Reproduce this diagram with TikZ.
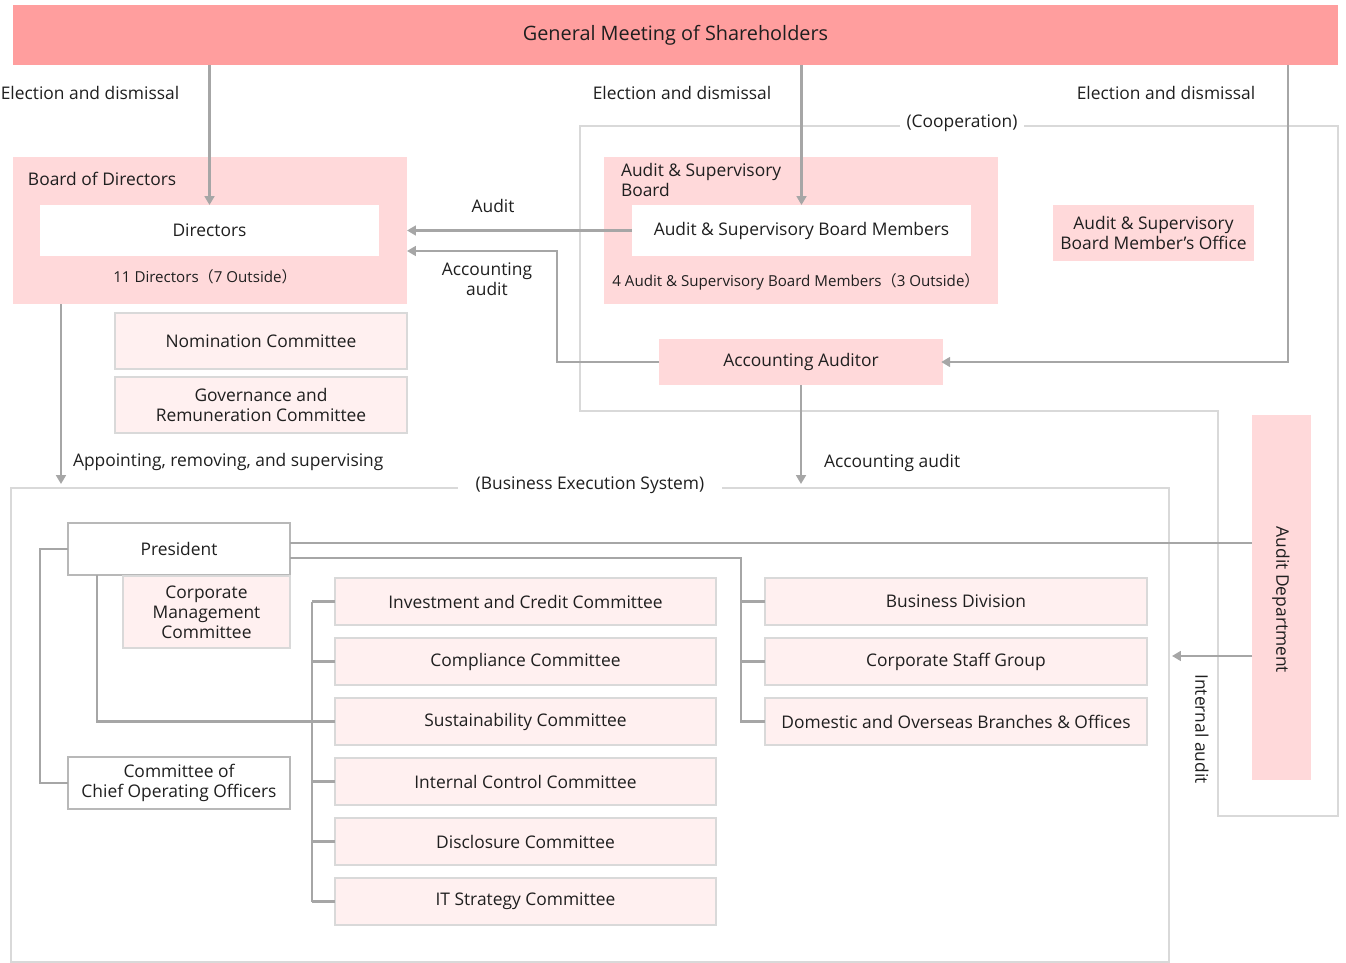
\documentclass[tikz,border=0pt]{standalone}
\usepackage{fontspec}
\setmainfont{Open Sans}
\newfontfamily\cjk{Noto Sans CJK JP}
\usetikzlibrary{arrows.meta}

\definecolor{gmsred}{HTML}{FF9E9E}
\definecolor{boardpink}{HTML}{FFD9DA}
\definecolor{compink}{HTML}{FFF0F0}
\definecolor{linegray}{HTML}{A6A6A6}
\definecolor{framegray}{HTML}{D9D9D9}

\tikzset{
  sz/.style 2 args={minimum width=#1*0.02cm, minimum height=#2*0.02cm},
  pinkbox/.style={fill=boardpink, draw=none},
  whitebox/.style={fill=white, draw=none},
  combox/.style={fill=compink, draw=framegray, line width=0.9pt},
  presbox/.style={fill=white, draw=linegray!80, line width=0.8pt},
  conn/.style={draw=linegray, line width=1.3pt},
  arr/.style={conn, -{Triangle[length=5pt,width=5.5pt]}},
  frameline/.style={draw=framegray, line width=0.8pt},
  small/.style={font=\fontsize{8.6}{10}\selectfont}
}

\begin{document}
\begin{tikzpicture}[x=0.02cm, y=-0.02cm,
    every node/.style={font=\fontsize{9.9}{11.5}\selectfont, text=black!88,
      inner sep=0pt, outer sep=0pt, align=center}]
    \useasboundingbox (0,0) rectangle (1346,963);

    % Cooperation frame
    \draw[frameline] (580,126) -- (1338,126) -- (1338,816) -- (1218,816)
      -- (1218,411) -- (580,411) -- cycle;

    % Business execution frame
    \node[frameline, sz={1158}{474}] (bes) at (590,725) {};

    % Top bar
    \node[fill=gmsred, sz={1325}{60}, font=\fontsize{11.3}{13}\selectfont] (gms) at (675.5,35) {General Meeting of Shareholders};

    % Board of Directors
    \node[pinkbox, sz={394}{147}] (bod) at (210,230.5) {};
    \node[anchor=west] (bodlbl) at (28,179) {Board of Directors};
    \node[whitebox, sz={339}{51}] (dirs) at (209.5,230.5) {Directors};
    \node[small] (dirsnum) at (205,277) {11 Directors{\cjk（}7 Outside{\cjk）}};
    \node[combox, sz={292}{56}] (nom) at (261,341) {Nomination Committee};
    \node[combox, sz={292}{56}] (gov) at (261,405) {Governance and\\Remuneration Committee};

    % Audit & Supervisory Board
    \node[pinkbox, sz={394}{147}] (asb) at (801,230.5) {};
    \node[anchor=north west, align=left] (asblbl) at (621,163) {Audit \& Supervisory\\Board};
    \node[whitebox, sz={339}{51}] (asbm) at (801.5,230.5) {Audit \& Supervisory Board Members};
    \node[small] (asbnum) at (796,282) {4 Audit \& Supervisory Board Members{\cjk（}3 Outside{\cjk）}};
    \node[pinkbox, sz={201}{56}] (office) at (1153.5,233) {Audit \& Supervisory\\Board Member’s Office};
    \node[pinkbox, sz={284}{46}] (accaud) at (801,362) {Accounting Auditor};

    % Audit Department
    \node[pinkbox, sz={59}{365}] (auddep) at (1281.5,597.5) {};
    \node[rotate=-90] (auddeplbl) at (1281,600) {Audit Department};

    % Business execution system
    \node[presbox, sz={222}{52}] (pres) at (179,549) {President};
    \node[combox, sz={167}{72}] (cmc) at (206.5,612) {Corporate\\Management\\Committee};
    \node[presbox, sz={222}{52}] (coo) at (179,783) {Committee of\\Chief Operating Officers};

    \foreach \i/\name in {1/Investment and Credit Committee, 2/Compliance Committee,
        3/Sustainability Committee, 4/Internal Control Committee,
        5/Disclosure Committee, 6/IT Strategy Committee}{
      \node[combox, sz={381}{47}] (c\i) at (525.5,541.5+60*\i) {\name};
    }
    \foreach \i/\name in {1/Business Division, 2/Corporate Staff Group,
        3/Domestic and Overseas Branches \& Offices}{
      \node[combox, sz={382}{47}] (d\i) at (956,541.5+60*\i) {\name};
    }

    % Election and dismissal
    \draw[arr] (dirs.north |- gms.south) -- (dirs.north);
    \draw[arr] (asbm.north |- gms.south) -- (asbm.north);
    \coordinate (elbowR) at (1288,362);
    \draw[arr] (gms.south -| elbowR) -- (elbowR) -- ([xshift=-1pt]accaud.east);
    \node (el1) at (90,93) {Election and dismissal};
    \node (el2) at (682,93) {Election and dismissal};
    \node (el3) at (1166,93) {Election and dismissal};

    % Audit lines
    \draw[arr] (asbm.west) -- (asbm.west -| bod.east);
    \coordinate (accturn) at (557,251);
    \draw[arr] (accaud.west) -| (accturn) -- (accturn -| bod.east);
    \node (auditlbl) at (493,206) {Audit};
    \node (acclbl) at (487,279) {Accounting\\audit};

    % Down to business execution
    \draw[arr] ([xshift=0.96cm]bod.south west) -- ([xshift=0.96cm,yshift=0.08cm]bod.south west |- bes.north);
    \node[anchor=west] (apptlbl) at (73,462) {Appointing, removing, and supervising};
    \draw[arr] (accaud.south) -- ([yshift=0.08cm]accaud.south |- bes.north);
    \node[anchor=west] (acc2lbl) at (824,463) {Accounting audit};

    % Frame labels
    \node[fill=white, inner xsep=4pt, inner ysep=2pt] (cooplbl) at (962,123) {(Cooperation)};
    \node[fill=white, inner xsep=10pt, inner ysep=2pt] (beslbl) at (590,485) {(Business Execution System)};

    % President links
    \draw[conn] ([yshift=0.12cm]pres.east) -- ([yshift=0.12cm]pres.east -| auddep.west);
    \draw[conn] ([yshift=-0.18cm]pres.east) -| ([xshift=-0.48cm]d3.west) -- (d3.west);
    \foreach \i in {1,2}{
      \draw[conn] (d\i.west) -- ++(-0.48cm,0);
    }
    \draw[conn] (pres.west) -- ++(-0.56cm,0) |- (coo.west);
    \draw[conn] ([xshift=0.58cm]pres.south west) |- (c3.west);
    \draw[conn] ([xshift=-0.46cm]c1.west) -- ([xshift=-0.46cm]c6.west);
    \foreach \i in {1,...,6}{
      \draw[conn] (c\i.west) -- ++(-0.46cm,0);
    }

    % Internal audit
    \draw[arr] ([yshift=-1.17cm]auddep.west) -- ([yshift=-1.17cm,xshift=0.06cm]auddep.west -| bes.east);
    \node[rotate=-90] (ialbl) at (1202,729) {Internal audit};
\end{tikzpicture}
\end{document}
